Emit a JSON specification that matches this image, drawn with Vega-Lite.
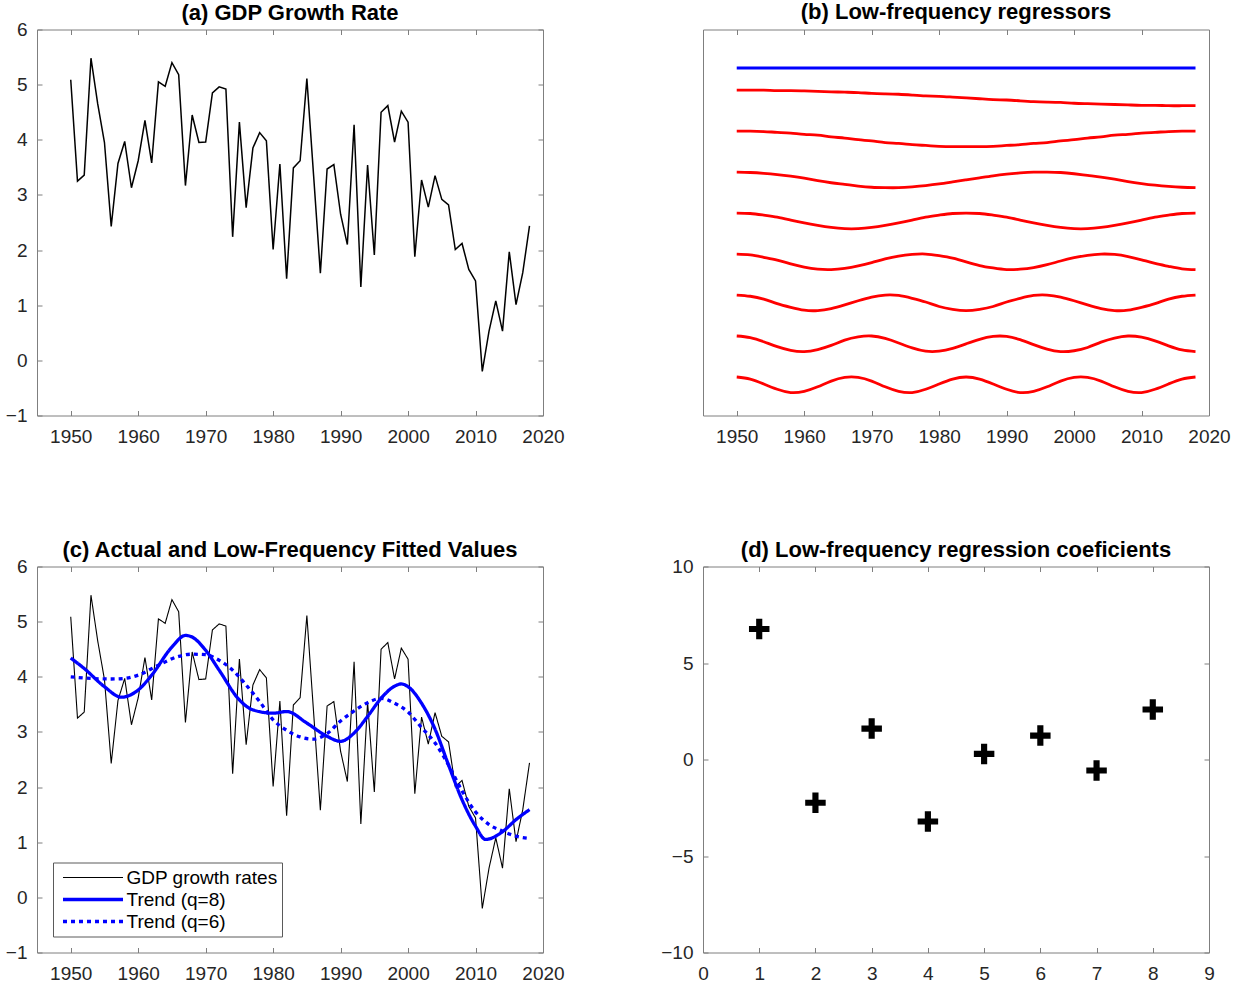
{
  "$schema": "https://vega.github.io/schema/vega-lite/v6.json",
  "background": "white",
  "padding": {"left": 5, "top": 0.5, "right": 5, "bottom": 5},
  "config": {
    "font": "Liberation Sans",
    "view": {"stroke": null},
    "axis": {
      "grid": false, "title": null, "domainColor": "#7f7f7f", "tickColor": "#7f7f7f",
      "domainWidth": 1, "tickWidth": 1, "tickSize": -5,
      "labelFont": "Liberation Sans", "labelFontSize": 19, "labelColor": "#262626",
      "labelFlush": false, "labelOverlap": false
    },
    "axisBottom": {"labelPadding": 17},
    "axisLeft": {"labelPadding": 15},
    "title": {"font": "Liberation Sans", "fontSize": 22, "fontWeight": "bold", "color": "#000000", "baseline": "alphabetic", "anchor": "middle", "frame": "group"}
  },
  "datasets": {
    "gdp": [
      {"year":1950,"g":5.09},{"year":1951,"g":3.25},{"year":1952,"g":3.36},{"year":1953,"g":5.48},{"year":1954,"g":4.65},{"year":1955,"g":3.95},{"year":1956,"g":2.43},{"year":1957,"g":3.57},{"year":1958,"g":3.97},{"year":1959,"g":3.13},
      {"year":1960,"g":3.62},{"year":1961,"g":4.35},{"year":1962,"g":3.58},{"year":1963,"g":5.05},{"year":1964,"g":4.97},{"year":1965,"g":5.40},{"year":1966,"g":5.18},{"year":1967,"g":3.17},{"year":1968,"g":4.45},{"year":1969,"g":3.95},
      {"year":1970,"g":3.96},{"year":1971,"g":4.85},{"year":1972,"g":4.96},{"year":1973,"g":4.92},{"year":1974,"g":2.24},{"year":1975,"g":4.32},{"year":1976,"g":2.77},{"year":1977,"g":3.85},{"year":1978,"g":4.13},{"year":1979,"g":3.98},
      {"year":1980,"g":2.01},{"year":1981,"g":3.56},{"year":1982,"g":1.48},{"year":1983,"g":3.49},{"year":1984,"g":3.62},{"year":1985,"g":5.11},{"year":1986,"g":3.35},{"year":1987,"g":1.58},{"year":1988,"g":3.47},{"year":1989,"g":3.55},
      {"year":1990,"g":2.65},{"year":1991,"g":2.10},{"year":1992,"g":4.27},{"year":1993,"g":1.33},{"year":1994,"g":3.54},{"year":1995,"g":1.91},{"year":1996,"g":4.50},{"year":1997,"g":4.62},{"year":1998,"g":3.96},{"year":1999,"g":4.52},
      {"year":2000,"g":4.32},{"year":2001,"g":1.88},{"year":2002,"g":3.27},{"year":2003,"g":2.78},{"year":2004,"g":3.35},{"year":2005,"g":2.92},{"year":2006,"g":2.82},{"year":2007,"g":2.01},{"year":2008,"g":2.12},{"year":2009,"g":1.65},
      {"year":2010,"g":1.44},{"year":2011,"g":-0.20},{"year":2012,"g":0.53},{"year":2013,"g":1.08},{"year":2014,"g":0.53},{"year":2015,"g":1.97},{"year":2016,"g":1.01},{"year":2017,"g":1.59},{"year":2018,"g":2.44}
    ],
    "gdpc": [
      {"s":"GDP growth rates","year":1950,"v":5.09},{"s":"GDP growth rates","year":1951,"v":3.25},{"s":"GDP growth rates","year":1952,"v":3.36},{"s":"GDP growth rates","year":1953,"v":5.48},{"s":"GDP growth rates","year":1954,"v":4.65},{"s":"GDP growth rates","year":1955,"v":3.95},{"s":"GDP growth rates","year":1956,"v":2.43},{"s":"GDP growth rates","year":1957,"v":3.57},{"s":"GDP growth rates","year":1958,"v":3.97},{"s":"GDP growth rates","year":1959,"v":3.13},
      {"s":"GDP growth rates","year":1960,"v":3.62},{"s":"GDP growth rates","year":1961,"v":4.35},{"s":"GDP growth rates","year":1962,"v":3.58},{"s":"GDP growth rates","year":1963,"v":5.05},{"s":"GDP growth rates","year":1964,"v":4.97},{"s":"GDP growth rates","year":1965,"v":5.40},{"s":"GDP growth rates","year":1966,"v":5.18},{"s":"GDP growth rates","year":1967,"v":3.17},{"s":"GDP growth rates","year":1968,"v":4.45},{"s":"GDP growth rates","year":1969,"v":3.95},
      {"s":"GDP growth rates","year":1970,"v":3.96},{"s":"GDP growth rates","year":1971,"v":4.85},{"s":"GDP growth rates","year":1972,"v":4.96},{"s":"GDP growth rates","year":1973,"v":4.92},{"s":"GDP growth rates","year":1974,"v":2.24},{"s":"GDP growth rates","year":1975,"v":4.32},{"s":"GDP growth rates","year":1976,"v":2.77},{"s":"GDP growth rates","year":1977,"v":3.85},{"s":"GDP growth rates","year":1978,"v":4.13},{"s":"GDP growth rates","year":1979,"v":3.98},
      {"s":"GDP growth rates","year":1980,"v":2.01},{"s":"GDP growth rates","year":1981,"v":3.56},{"s":"GDP growth rates","year":1982,"v":1.48},{"s":"GDP growth rates","year":1983,"v":3.49},{"s":"GDP growth rates","year":1984,"v":3.62},{"s":"GDP growth rates","year":1985,"v":5.11},{"s":"GDP growth rates","year":1986,"v":3.35},{"s":"GDP growth rates","year":1987,"v":1.58},{"s":"GDP growth rates","year":1988,"v":3.47},{"s":"GDP growth rates","year":1989,"v":3.55},
      {"s":"GDP growth rates","year":1990,"v":2.65},{"s":"GDP growth rates","year":1991,"v":2.10},{"s":"GDP growth rates","year":1992,"v":4.27},{"s":"GDP growth rates","year":1993,"v":1.33},{"s":"GDP growth rates","year":1994,"v":3.54},{"s":"GDP growth rates","year":1995,"v":1.91},{"s":"GDP growth rates","year":1996,"v":4.50},{"s":"GDP growth rates","year":1997,"v":4.62},{"s":"GDP growth rates","year":1998,"v":3.96},{"s":"GDP growth rates","year":1999,"v":4.52},
      {"s":"GDP growth rates","year":2000,"v":4.32},{"s":"GDP growth rates","year":2001,"v":1.88},{"s":"GDP growth rates","year":2002,"v":3.27},{"s":"GDP growth rates","year":2003,"v":2.78},{"s":"GDP growth rates","year":2004,"v":3.35},{"s":"GDP growth rates","year":2005,"v":2.92},{"s":"GDP growth rates","year":2006,"v":2.82},{"s":"GDP growth rates","year":2007,"v":2.01},{"s":"GDP growth rates","year":2008,"v":2.12},{"s":"GDP growth rates","year":2009,"v":1.65},
      {"s":"GDP growth rates","year":2010,"v":1.44},{"s":"GDP growth rates","year":2011,"v":-0.20},{"s":"GDP growth rates","year":2012,"v":0.53},{"s":"GDP growth rates","year":2013,"v":1.08},{"s":"GDP growth rates","year":2014,"v":0.53},{"s":"GDP growth rates","year":2015,"v":1.97},{"s":"GDP growth rates","year":2016,"v":1.01},{"s":"GDP growth rates","year":2017,"v":1.59},{"s":"GDP growth rates","year":2018,"v":2.44}
    ],
    "trend": [
      {"s":"Trend (q=8)","year":1950,"v":4.34},{"s":"Trend (q=8)","year":1952,"v":4.15},{"s":"Trend (q=8)","year":1955,"v":3.82},{"s":"Trend (q=8)","year":1957.5,"v":3.63},{"s":"Trend (q=8)","year":1960,"v":3.76},{"s":"Trend (q=8)","year":1962,"v":4.03},{"s":"Trend (q=8)","year":1965,"v":4.54},{"s":"Trend (q=8)","year":1967,"v":4.75},{"s":"Trend (q=8)","year":1968,"v":4.72},{"s":"Trend (q=8)","year":1970,"v":4.48},{"s":"Trend (q=8)","year":1972,"v":4.12},{"s":"Trend (q=8)","year":1975,"v":3.58},{"s":"Trend (q=8)","year":1977,"v":3.40},{"s":"Trend (q=8)","year":1980,"v":3.34},{"s":"Trend (q=8)","year":1982,"v":3.37},{"s":"Trend (q=8)","year":1985,"v":3.16},{"s":"Trend (q=8)","year":1988,"v":2.92},{"s":"Trend (q=8)","year":1990,"v":2.83},{"s":"Trend (q=8)","year":1992,"v":2.98},{"s":"Trend (q=8)","year":1994,"v":3.28},{"s":"Trend (q=8)","year":1996,"v":3.61},{"s":"Trend (q=8)","year":1998,"v":3.83},{"s":"Trend (q=8)","year":1999,"v":3.87},{"s":"Trend (q=8)","year":2000,"v":3.82},{"s":"Trend (q=8)","year":2002,"v":3.52},{"s":"Trend (q=8)","year":2004,"v":3.05},{"s":"Trend (q=8)","year":2006,"v":2.40},{"s":"Trend (q=8)","year":2008,"v":1.77},{"s":"Trend (q=8)","year":2010,"v":1.29},{"s":"Trend (q=8)","year":2011.5,"v":1.05},{"s":"Trend (q=8)","year":2014,"v":1.19},{"s":"Trend (q=8)","year":2016,"v":1.41},{"s":"Trend (q=8)","year":2018,"v":1.59},
      {"s":"Trend (q=6)","year":1950,"v":4.00},{"s":"Trend (q=6)","year":1953,"v":3.97},{"s":"Trend (q=6)","year":1956,"v":3.96},{"s":"Trend (q=6)","year":1958,"v":3.97},{"s":"Trend (q=6)","year":1960,"v":4.03},{"s":"Trend (q=6)","year":1963,"v":4.21},{"s":"Trend (q=6)","year":1966,"v":4.37},{"s":"Trend (q=6)","year":1968,"v":4.41},{"s":"Trend (q=6)","year":1970,"v":4.40},{"s":"Trend (q=6)","year":1972,"v":4.30},{"s":"Trend (q=6)","year":1974,"v":4.12},{"s":"Trend (q=6)","year":1976,"v":3.85},{"s":"Trend (q=6)","year":1978,"v":3.55},{"s":"Trend (q=6)","year":1980,"v":3.22},{"s":"Trend (q=6)","year":1982,"v":3.03},{"s":"Trend (q=6)","year":1984,"v":2.91},{"s":"Trend (q=6)","year":1986,"v":2.87},{"s":"Trend (q=6)","year":1988,"v":2.97},{"s":"Trend (q=6)","year":1990,"v":3.20},{"s":"Trend (q=6)","year":1992,"v":3.38},{"s":"Trend (q=6)","year":1994,"v":3.53},{"s":"Trend (q=6)","year":1996,"v":3.61},{"s":"Trend (q=6)","year":1998,"v":3.52},{"s":"Trend (q=6)","year":2000,"v":3.36},{"s":"Trend (q=6)","year":2002,"v":3.08},{"s":"Trend (q=6)","year":2004,"v":2.80},{"s":"Trend (q=6)","year":2006,"v":2.40},{"s":"Trend (q=6)","year":2008,"v":1.93},{"s":"Trend (q=6)","year":2010,"v":1.55},{"s":"Trend (q=6)","year":2012,"v":1.32},{"s":"Trend (q=6)","year":2014,"v":1.20},{"s":"Trend (q=6)","year":2016,"v":1.11},{"s":"Trend (q=6)","year":2018,"v":1.07}
    ],
    "coef": [
      {"i":1,"c":6.76},{"i":2,"c":-2.24},{"i":3,"c":1.60},{"i":4,"c":-3.21},{"i":5,"c":0.29},{"i":6,"c":1.24},{"i":7,"c":-0.57},{"i":8,"c":2.59}
    ],
    "reg": [
      {"k":0,"t":1950,"y":-0.27},{"k":0,"t":2018,"y":-0.27},
      {"k":1,"t":1950,"y":-0.81},{"k":1,"t":1952,"y":-0.81},{"k":1,"t":1954,"y":-0.81},{"k":1,"t":1956,"y":-0.82},{"k":1,"t":1958,"y":-0.82},{"k":1,"t":1960,"y":-0.83},{"k":1,"t":1962,"y":-0.84},{"k":1,"t":1964,"y":-0.85},{"k":1,"t":1966,"y":-0.86},{"k":1,"t":1968,"y":-0.87},{"k":1,"t":1970,"y":-0.89},{"k":1,"t":1972,"y":-0.90},{"k":1,"t":1974,"y":-0.91},{"k":1,"t":1976,"y":-0.93},{"k":1,"t":1978,"y":-0.95},{"k":1,"t":1980,"y":-0.96},{"k":1,"t":1982,"y":-0.98},{"k":1,"t":1984,"y":-1.00},{"k":1,"t":1986,"y":-1.02},{"k":1,"t":1988,"y":-1.04},{"k":1,"t":1990,"y":-1.05},{"k":1,"t":1992,"y":-1.07},{"k":1,"t":1994,"y":-1.09},{"k":1,"t":1996,"y":-1.10},{"k":1,"t":1998,"y":-1.11},{"k":1,"t":2000,"y":-1.13},{"k":1,"t":2002,"y":-1.14},{"k":1,"t":2004,"y":-1.15},{"k":1,"t":2006,"y":-1.16},{"k":1,"t":2008,"y":-1.17},{"k":1,"t":2010,"y":-1.18},{"k":1,"t":2012,"y":-1.18},{"k":1,"t":2014,"y":-1.19},{"k":1,"t":2016,"y":-1.19},{"k":1,"t":2018,"y":-1.19},
      {"k":2,"t":1950,"y":-1.81},{"k":2,"t":1952,"y":-1.81},{"k":2,"t":1954,"y":-1.82},{"k":2,"t":1956,"y":-1.84},{"k":2,"t":1958,"y":-1.86},{"k":2,"t":1960,"y":-1.89},{"k":2,"t":1962,"y":-1.91},{"k":2,"t":1964,"y":-1.95},{"k":2,"t":1966,"y":-1.98},{"k":2,"t":1968,"y":-2.02},{"k":2,"t":1970,"y":-2.05},{"k":2,"t":1972,"y":-2.09},{"k":2,"t":1974,"y":-2.11},{"k":2,"t":1976,"y":-2.14},{"k":2,"t":1978,"y":-2.16},{"k":2,"t":1980,"y":-2.18},{"k":2,"t":1982,"y":-2.19},{"k":2,"t":1984,"y":-2.19},{"k":2,"t":1986,"y":-2.19},{"k":2,"t":1988,"y":-2.18},{"k":2,"t":1990,"y":-2.16},{"k":2,"t":1992,"y":-2.14},{"k":2,"t":1994,"y":-2.11},{"k":2,"t":1996,"y":-2.09},{"k":2,"t":1998,"y":-2.05},{"k":2,"t":2000,"y":-2.02},{"k":2,"t":2002,"y":-1.98},{"k":2,"t":2004,"y":-1.95},{"k":2,"t":2006,"y":-1.91},{"k":2,"t":2008,"y":-1.89},{"k":2,"t":2010,"y":-1.86},{"k":2,"t":2012,"y":-1.84},{"k":2,"t":2014,"y":-1.82},{"k":2,"t":2016,"y":-1.81},{"k":2,"t":2018,"y":-1.81},
      {"k":3,"t":1950,"y":-2.81},{"k":3,"t":1952,"y":-2.82},{"k":3,"t":1954,"y":-2.84},{"k":3,"t":1956,"y":-2.87},{"k":3,"t":1958,"y":-2.91},{"k":3,"t":1960,"y":-2.96},{"k":3,"t":1962,"y":-3.02},{"k":3,"t":1964,"y":-3.07},{"k":3,"t":1966,"y":-3.11},{"k":3,"t":1968,"y":-3.15},{"k":3,"t":1970,"y":-3.18},{"k":3,"t":1972,"y":-3.19},{"k":3,"t":1974,"y":-3.19},{"k":3,"t":1976,"y":-3.17},{"k":3,"t":1978,"y":-3.14},{"k":3,"t":1980,"y":-3.10},{"k":3,"t":1982,"y":-3.05},{"k":3,"t":1984,"y":-3.00},{"k":3,"t":1986,"y":-2.95},{"k":3,"t":1988,"y":-2.90},{"k":3,"t":1990,"y":-2.86},{"k":3,"t":1992,"y":-2.83},{"k":3,"t":1994,"y":-2.81},{"k":3,"t":1996,"y":-2.81},{"k":3,"t":1998,"y":-2.82},{"k":3,"t":2000,"y":-2.85},{"k":3,"t":2002,"y":-2.89},{"k":3,"t":2004,"y":-2.93},{"k":3,"t":2006,"y":-2.98},{"k":3,"t":2008,"y":-3.04},{"k":3,"t":2010,"y":-3.09},{"k":3,"t":2012,"y":-3.13},{"k":3,"t":2014,"y":-3.16},{"k":3,"t":2016,"y":-3.18},{"k":3,"t":2018,"y":-3.19},
      {"k":4,"t":1950,"y":-3.81},{"k":4,"t":1952,"y":-3.82},{"k":4,"t":1954,"y":-3.86},{"k":4,"t":1956,"y":-3.91},{"k":4,"t":1958,"y":-3.98},{"k":4,"t":1960,"y":-4.05},{"k":4,"t":1962,"y":-4.11},{"k":4,"t":1964,"y":-4.16},{"k":4,"t":1966,"y":-4.19},{"k":4,"t":1968,"y":-4.19},{"k":4,"t":1970,"y":-4.16},{"k":4,"t":1972,"y":-4.11},{"k":4,"t":1974,"y":-4.05},{"k":4,"t":1976,"y":-3.98},{"k":4,"t":1978,"y":-3.91},{"k":4,"t":1980,"y":-3.86},{"k":4,"t":1982,"y":-3.82},{"k":4,"t":1984,"y":-3.81},{"k":4,"t":1986,"y":-3.82},{"k":4,"t":1988,"y":-3.86},{"k":4,"t":1990,"y":-3.91},{"k":4,"t":1992,"y":-3.98},{"k":4,"t":1994,"y":-4.05},{"k":4,"t":1996,"y":-4.11},{"k":4,"t":1998,"y":-4.16},{"k":4,"t":2000,"y":-4.19},{"k":4,"t":2002,"y":-4.19},{"k":4,"t":2004,"y":-4.16},{"k":4,"t":2006,"y":-4.11},{"k":4,"t":2008,"y":-4.05},{"k":4,"t":2010,"y":-3.98},{"k":4,"t":2012,"y":-3.91},{"k":4,"t":2014,"y":-3.86},{"k":4,"t":2016,"y":-3.82},{"k":4,"t":2018,"y":-3.81},
      {"k":5,"t":1950,"y":-4.81},{"k":5,"t":1952,"y":-4.83},{"k":5,"t":1954,"y":-4.89},{"k":5,"t":1956,"y":-4.96},{"k":5,"t":1958,"y":-5.05},{"k":5,"t":1960,"y":-5.13},{"k":5,"t":1962,"y":-5.18},{"k":5,"t":1964,"y":-5.19},{"k":5,"t":1966,"y":-5.16},{"k":5,"t":1968,"y":-5.10},{"k":5,"t":1970,"y":-5.02},{"k":5,"t":1972,"y":-4.93},{"k":5,"t":1974,"y":-4.86},{"k":5,"t":1976,"y":-4.82},{"k":5,"t":1978,"y":-4.81},{"k":5,"t":1980,"y":-4.85},{"k":5,"t":1982,"y":-4.91},{"k":5,"t":1984,"y":-5.00},{"k":5,"t":1986,"y":-5.09},{"k":5,"t":1988,"y":-5.15},{"k":5,"t":1990,"y":-5.19},{"k":5,"t":1992,"y":-5.18},{"k":5,"t":1994,"y":-5.14},{"k":5,"t":1996,"y":-5.07},{"k":5,"t":1998,"y":-4.98},{"k":5,"t":2000,"y":-4.90},{"k":5,"t":2002,"y":-4.84},{"k":5,"t":2004,"y":-4.81},{"k":5,"t":2006,"y":-4.82},{"k":5,"t":2008,"y":-4.87},{"k":5,"t":2010,"y":-4.95},{"k":5,"t":2012,"y":-5.04},{"k":5,"t":2014,"y":-5.11},{"k":5,"t":2016,"y":-5.17},{"k":5,"t":2018,"y":-5.19},
      {"k":6,"t":1950,"y":-5.81},{"k":6,"t":1952,"y":-5.84},{"k":6,"t":1954,"y":-5.91},{"k":6,"t":1956,"y":-6.02},{"k":6,"t":1958,"y":-6.11},{"k":6,"t":1960,"y":-6.18},{"k":6,"t":1962,"y":-6.19},{"k":6,"t":1964,"y":-6.14},{"k":6,"t":1966,"y":-6.05},{"k":6,"t":1968,"y":-5.95},{"k":6,"t":1970,"y":-5.86},{"k":6,"t":1972,"y":-5.81},{"k":6,"t":1974,"y":-5.82},{"k":6,"t":1976,"y":-5.89},{"k":6,"t":1978,"y":-5.98},{"k":6,"t":1980,"y":-6.09},{"k":6,"t":1982,"y":-6.16},{"k":6,"t":1984,"y":-6.19},{"k":6,"t":1986,"y":-6.16},{"k":6,"t":1988,"y":-6.09},{"k":6,"t":1990,"y":-5.98},{"k":6,"t":1992,"y":-5.89},{"k":6,"t":1994,"y":-5.82},{"k":6,"t":1996,"y":-5.81},{"k":6,"t":1998,"y":-5.86},{"k":6,"t":2000,"y":-5.95},{"k":6,"t":2002,"y":-6.05},{"k":6,"t":2004,"y":-6.14},{"k":6,"t":2006,"y":-6.19},{"k":6,"t":2008,"y":-6.18},{"k":6,"t":2010,"y":-6.11},{"k":6,"t":2012,"y":-6.02},{"k":6,"t":2014,"y":-5.91},{"k":6,"t":2016,"y":-5.84},{"k":6,"t":2018,"y":-5.81},
      {"k":7,"t":1950,"y":-6.81},{"k":7,"t":1952,"y":-6.85},{"k":7,"t":1954,"y":-6.95},{"k":7,"t":1956,"y":-7.07},{"k":7,"t":1958,"y":-7.16},{"k":7,"t":1960,"y":-7.19},{"k":7,"t":1962,"y":-7.14},{"k":7,"t":1964,"y":-7.04},{"k":7,"t":1966,"y":-6.91},{"k":7,"t":1968,"y":-6.83},{"k":7,"t":1970,"y":-6.81},{"k":7,"t":1972,"y":-6.87},{"k":7,"t":1974,"y":-6.98},{"k":7,"t":1976,"y":-7.10},{"k":7,"t":1978,"y":-7.18},{"k":7,"t":1980,"y":-7.18},{"k":7,"t":1982,"y":-7.11},{"k":7,"t":1984,"y":-7.00},{"k":7,"t":1986,"y":-6.89},{"k":7,"t":1988,"y":-6.82},{"k":7,"t":1990,"y":-6.82},{"k":7,"t":1992,"y":-6.90},{"k":7,"t":1994,"y":-7.02},{"k":7,"t":1996,"y":-7.13},{"k":7,"t":1998,"y":-7.19},{"k":7,"t":2000,"y":-7.17},{"k":7,"t":2002,"y":-7.09},{"k":7,"t":2004,"y":-6.96},{"k":7,"t":2006,"y":-6.86},{"k":7,"t":2008,"y":-6.81},{"k":7,"t":2010,"y":-6.84},{"k":7,"t":2012,"y":-6.93},{"k":7,"t":2014,"y":-7.05},{"k":7,"t":2016,"y":-7.15},{"k":7,"t":2018,"y":-7.19},
      {"k":8,"t":1950,"y":-7.81},{"k":8,"t":1952,"y":-7.86},{"k":8,"t":1954,"y":-7.98},{"k":8,"t":1956,"y":-8.11},{"k":8,"t":1958,"y":-8.19},{"k":8,"t":1960,"y":-8.16},{"k":8,"t":1962,"y":-8.05},{"k":8,"t":1964,"y":-7.91},{"k":8,"t":1966,"y":-7.82},{"k":8,"t":1968,"y":-7.82},{"k":8,"t":1970,"y":-7.91},{"k":8,"t":1972,"y":-8.05},{"k":8,"t":1974,"y":-8.16},{"k":8,"t":1976,"y":-8.19},{"k":8,"t":1978,"y":-8.11},{"k":8,"t":1980,"y":-7.98},{"k":8,"t":1982,"y":-7.86},{"k":8,"t":1984,"y":-7.81},{"k":8,"t":1986,"y":-7.86},{"k":8,"t":1988,"y":-7.98},{"k":8,"t":1990,"y":-8.11},{"k":8,"t":1992,"y":-8.19},{"k":8,"t":1994,"y":-8.16},{"k":8,"t":1996,"y":-8.05},{"k":8,"t":1998,"y":-7.91},{"k":8,"t":2000,"y":-7.82},{"k":8,"t":2002,"y":-7.82},{"k":8,"t":2004,"y":-7.91},{"k":8,"t":2006,"y":-8.05},{"k":8,"t":2008,"y":-8.16},{"k":8,"t":2010,"y":-8.19},{"k":8,"t":2012,"y":-8.11},{"k":8,"t":2014,"y":-7.98},{"k":8,"t":2016,"y":-7.86},{"k":8,"t":2018,"y":-7.81}
    ]
  },
  "columns": 2,
  "spacing": {"row": 151, "column": 160},
  "bounds": "flush",
  "concat": [
    {
      "width": 506, "height": 386,
      "title": {"text": "(a) GDP Growth Rate", "offset": -4},
      "data": {"name": "gdp"},
      "layer": [
        {
          "mark": {"type": "line", "color": "#000000", "strokeWidth": 1.5},
          "encoding": {
            "x": {"field": "year", "type": "quantitative", "scale": {"domain": [1945, 2020], "nice": false, "zero": false}, "axis": {"orient": "bottom", "values": [1950,1960,1970,1980,1990,2000,2010,2020], "format": "d"}},
            "y": {"field": "g", "type": "quantitative", "scale": {"domain": [-1, 6], "nice": false, "zero": false}, "axis": {"orient": "left", "values": [-1,0,1,2,3,4,5,6], "format": "d"}}
          }
        },
        {
          "mark": {"type": "point", "opacity": 0},
          "encoding": {
            "x": {"field": "year", "type": "quantitative", "scale": {"domain": [1945, 2020], "nice": false, "zero": false}, "axis": {"orient": "top", "labels": false, "values": [1950,1960,1970,1980,1990,2000,2010,2020]}},
            "y": {"field": "g", "type": "quantitative", "scale": {"domain": [-1, 6], "nice": false, "zero": false}, "axis": {"orient": "right", "labels": false, "values": [-1,0,1,2,3,4,5,6]}}
          }
        }
      ],
      "resolve": {"axis": {"x": "independent", "y": "independent"}}
    },
    {
      "width": 506, "height": 386,
      "title": {"text": "(b) Low-frequency regressors", "offset": 5},
      "data": {"name": "reg"},
      "layer": [
        {
          "mark": {"type": "line", "strokeWidth": 2.8, "interpolate": "natural"},
          "encoding": {
            "x": {"field": "t", "type": "quantitative", "scale": {"domain": [1945, 2020], "nice": false, "zero": false}, "axis": {"orient": "bottom", "values": [1950,1960,1970,1980,1990,2000,2010,2020], "format": "d"}},
            "y": {"field": "y", "type": "quantitative", "scale": {"domain": [-8.75, 0.67], "nice": false, "zero": false}, "axis": {"orient": "left", "labels": false, "ticks": false}},
            "detail": {"field": "k", "type": "nominal"},
            "color": {"condition": {"test": "datum.k == 0", "value": "#0000ff"}, "value": "#ff0000"}
          }
        },
        {
          "mark": {"type": "point", "opacity": 0},
          "encoding": {
            "x": {"field": "t", "type": "quantitative", "scale": {"domain": [1945, 2020], "nice": false, "zero": false}, "axis": {"orient": "top", "labels": false, "values": [1950,1960,1970,1980,1990,2000,2010,2020]}},
            "y": {"field": "y", "type": "quantitative", "scale": {"domain": [-8.75, 0.67], "nice": false, "zero": false}, "axis": {"orient": "right", "labels": false, "ticks": false}}
          }
        }
      ],
      "resolve": {"axis": {"x": "independent", "y": "independent"}}
    },
    {
      "width": 506, "height": 386,
      "title": {"text": "(c) Actual and Low-Frequency Fitted Values", "offset": -4},
      "layer": [
        {
          "data": {"name": "gdpc"},
          "mark": {"type": "line"},
          "encoding": {
            "x": {"field": "year", "type": "quantitative", "scale": {"domain": [1945, 2020], "nice": false, "zero": false}, "axis": {"orient": "bottom", "values": [1950,1960,1970,1980,1990,2000,2010,2020], "format": "d"}},
            "y": {"field": "v", "type": "quantitative", "scale": {"domain": [-1, 6], "nice": false, "zero": false}, "axis": {"orient": "left", "values": [-1,0,1,2,3,4,5,6], "format": "d"}},
            "color": {"field": "s", "type": "nominal", "scale": {"domain": ["GDP growth rates", "Trend (q=8)", "Trend (q=6)"], "range": ["#000000", "#0000ff", "#0000ff"]},
              "legend": {"orient": "none", "legendX": 16, "legendY": 833, "title": null, "symbolType": "stroke", "symbolSize": 3600, "clipHeight": 22, "rowPadding": 0, "padding": 4, "symbolOffset": 4, "labelOffset": 1.5, "labelFont": "Liberation Sans", "labelFontSize": 19, "labelColor": "#000000", "labelLimit": 400, "strokeColor": "#5a5a5a", "fillColor": "#ffffff"}},
            "strokeDash": {"field": "s", "type": "nominal", "scale": {"domain": ["GDP growth rates", "Trend (q=8)", "Trend (q=6)"], "range": [[1, 0], [1, 0], [4, 4]]}},
            "strokeWidth": {"field": "s", "type": "nominal", "scale": {"type": "ordinal", "domain": ["GDP growth rates", "Trend (q=8)", "Trend (q=6)"], "range": [1.1, 3.3, 3.3]}}
          }
        },
        {
          "data": {"name": "trend"},
          "mark": {"type": "line", "interpolate": "monotone"},
          "encoding": {
            "x": {"field": "year", "type": "quantitative", "scale": {"domain": [1945, 2020], "nice": false, "zero": false}, "axis": {"orient": "top", "labels": false, "values": [1950,1960,1970,1980,1990,2000,2010,2020]}},
            "y": {"field": "v", "type": "quantitative", "scale": {"domain": [-1, 6], "nice": false, "zero": false}, "axis": {"orient": "right", "labels": false, "values": [-1,0,1,2,3,4,5,6]}},
            "color": {"field": "s", "type": "nominal", "scale": {"domain": ["GDP growth rates", "Trend (q=8)", "Trend (q=6)"], "range": ["#000000", "#0000ff", "#0000ff"]}},
            "strokeDash": {"field": "s", "type": "nominal", "scale": {"domain": ["GDP growth rates", "Trend (q=8)", "Trend (q=6)"], "range": [[1, 0], [1, 0], [4, 4]]}},
            "strokeWidth": {"field": "s", "type": "nominal", "scale": {"type": "ordinal", "domain": ["GDP growth rates", "Trend (q=8)", "Trend (q=6)"], "range": [1.1, 3.3, 3.3]}}
          }
        }
      ],
      "resolve": {"axis": {"x": "independent", "y": "independent"}}
    },
    {
      "width": 506, "height": 386,
      "title": {"text": "(d) Low-frequency regression coeficients", "offset": -4},
      "data": {"name": "coef"},
      "layer": [
        {
          "mark": {"type": "point", "shape": "M-1,-0.3H-0.3V-1H0.3V-0.3H1V0.3H0.3V1H-0.3V0.3H-1Z", "filled": true, "color": "#000000", "size": 420, "opacity": 1},
          "encoding": {
            "x": {"field": "i", "type": "quantitative", "scale": {"domain": [0, 9], "nice": false, "zero": false}, "axis": {"orient": "bottom", "values": [0,1,2,3,4,5,6,7,8,9], "format": "d"}},
            "y": {"field": "c", "type": "quantitative", "scale": {"domain": [-10, 10], "nice": false, "zero": false}, "axis": {"orient": "left", "values": [-10,-5,0,5,10], "format": "d"}}
          }
        },
        {
          "mark": {"type": "point", "opacity": 0},
          "encoding": {
            "x": {"field": "i", "type": "quantitative", "scale": {"domain": [0, 9], "nice": false, "zero": false}, "axis": {"orient": "top", "labels": false, "values": [0,1,2,3,4,5,6,7,8,9]}},
            "y": {"field": "c", "type": "quantitative", "scale": {"domain": [-10, 10], "nice": false, "zero": false}, "axis": {"orient": "right", "labels": false, "values": [-10,-5,0,5,10]}}
          }
        }
      ],
      "resolve": {"axis": {"x": "independent", "y": "independent"}}
    }
  ]
}
